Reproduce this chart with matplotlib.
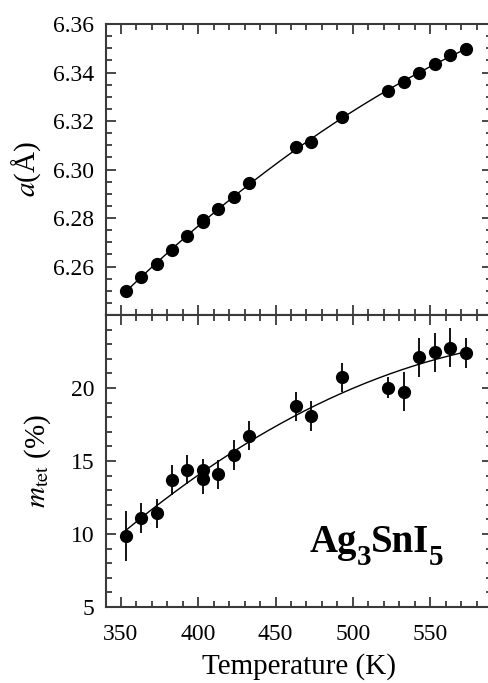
import numpy as np
import matplotlib
matplotlib.use("Agg")
import matplotlib.pyplot as plt
from matplotlib.ticker import MultipleLocator, FormatStrFormatter
from matplotlib.transforms import IdentityTransform

plt.rcParams['font.family'] = ['Liberation Serif', 'DejaVu Serif']
plt.rcParams['mathtext.fontset'] = 'stix'

# ---- data ----
temp_a = [353, 363, 373, 383, 393, 403, 403, 413, 423, 433, 463, 473, 493,
          523, 533, 543, 553, 563, 573]
lattice_a = [6.2500, 6.2555, 6.2609, 6.2668, 6.2726, 6.2785, 6.2792, 6.2838,
             6.2885, 6.2943, 6.3092, 6.3115, 6.3216, 6.3325, 6.3362, 6.3397,
             6.3436, 6.3471, 6.3497]

temp_m = [353, 363, 373, 383, 393, 403, 403, 413, 423, 433, 463, 473, 493,
          523, 533, 543, 553, 563, 573]
m_tet = [9.86, 11.10, 11.42, 13.72, 14.41, 14.41, 13.74, 14.09, 15.41, 16.74,
         18.74, 18.08, 20.73, 20.02, 19.75, 22.10, 22.44, 22.76, 22.40]
m_err = [1.7, 1.0, 1.0, 1.03, 1.0, 0.7, 1.0, 1.0, 1.0, 1.0, 1.0, 1.0, 1.0,
         0.7, 1.35, 1.35, 1.33, 1.35, 1.0]

xticks = [350, 400, 450, 500, 550]
a_ticks = [6.26, 6.28, 6.30, 6.32, 6.34, 6.36]
m_ticks = [5, 10, 15, 20]

# compound label pieces: (text, is_subscript)
formula_parts = [('Ag', False), ('3', True), ('SnI', False), ('5', True)]

fig = plt.figure(figsize=(4.88, 6.83), dpi=100)
W, H = 488.0, 683.0
left = 105.5 / W
width = (492 - 105.5) / W
ax1 = fig.add_axes([left, (H - 315) / H, width, 291 / H])
ax2 = fig.add_axes([left, (H - 607) / H, width, 292 / H])

spine_col = '#3a3a3a'
for ax in (ax1, ax2):
    ax.set_xlim(340, 590)
    ax.xaxis.set_minor_locator(MultipleLocator(10))
    ax.set_xticks(xticks)
    for s in ax.spines.values():
        s.set_linewidth(1.5)
        s.set_color(spine_col)
    ax.tick_params(which='both', direction='in', top=True, right=True,
                   color=spine_col, width=1.3, labelsize=17)
    ax.tick_params(which='major', length=7)
    ax.tick_params(which='minor', length=4)
    ax.tick_params(axis='y', pad=8)
    ax.tick_params(axis='x', pad=12)

# top panel
t_fit = np.linspace(min(temp_a), max(temp_a), 200)
ca = np.polyfit(temp_a, lattice_a, 2)
ax1.plot(t_fit, np.polyval(ca, t_fit), color='black', lw=1.0, zorder=2)
ax1.plot(temp_a, lattice_a, 'o', color='black', ms=8.5, zorder=3)
ax1.set_ylim(6.24, 6.36)
ax1.set_yticks(a_ticks)
ax1.yaxis.set_minor_locator(MultipleLocator(0.005))
ax1.yaxis.set_major_formatter(FormatStrFormatter('%.2f'))
ax1.tick_params(labelbottom=False)
ax1.set_ylabel(r'$a$(Å)', fontsize=21)
ax1.yaxis.set_label_coords(-0.163, 0.5)

# bottom panel
cm = np.polyfit(temp_m, m_tet, 2)
ax2.plot(t_fit, np.polyval(cm, t_fit), color='black', lw=1.0, zorder=2)
ax2.errorbar(temp_m, m_tet, yerr=m_err, fmt='o', color='black', ms=8.5,
             elinewidth=1.3, capsize=0, zorder=3)
ax2.set_ylim(5, 25)
ax2.set_yticks(m_ticks)
ax2.yaxis.set_minor_locator(MultipleLocator(1))
ax2.set_ylabel(r'$m_{\rm tet}$ (%)', fontsize=21)
ax2.yaxis.set_label_coords(-0.136, 0.5)
ax2.set_xlabel('Temperature (K)', fontsize=21, labelpad=6)

# formula label built piece by piece (large, low subscripts)
fig.canvas.draw()
renderer = fig.canvas.get_renderer()
x0, y0 = ax2.transAxes.transform((0.528, 0.188))
x = x0
for txt, sub in formula_parts:
    t = fig.text(x, y0 - (13 if sub else 0), txt, transform=IdentityTransform(),
                 fontsize=21 if sub else 28, fontweight='bold',
                 ha='left', va='baseline')
    bb = t.get_window_extent(renderer)
    x += bb.width - (1 if sub else 0)

fig.savefig('out.png', dpi=100)
